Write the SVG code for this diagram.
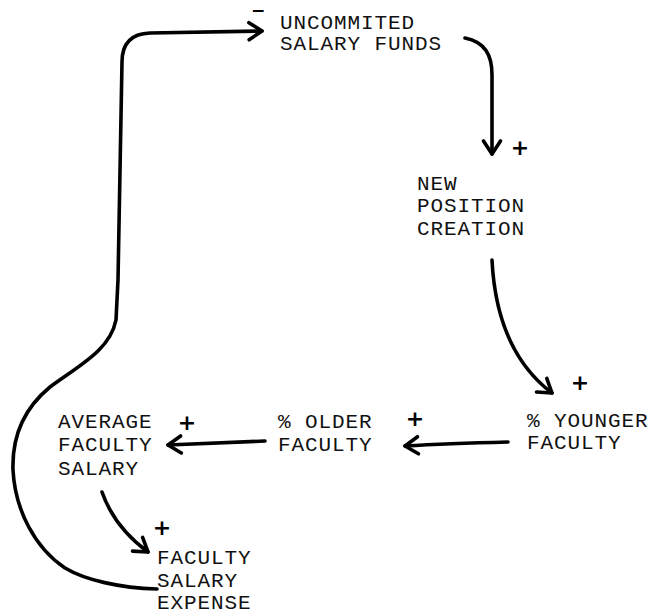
<svg xmlns="http://www.w3.org/2000/svg" width="664" height="616" viewBox="0 0 664 616">
  <style>
    .lbl { font-family: "Courier New", "Liberation Mono", monospace; font-size: 21px; letter-spacing: 0.9px; fill: #111; }
    .pol { font-family: "DejaVu Sans", "Liberation Sans", sans-serif; font-weight: bold; font-size: 22px; fill: #000; text-anchor: middle; dominant-baseline: central; }
    .link { fill: none; stroke: #000; stroke-width: 3.6; stroke-linecap: round; stroke-linejoin: round; }
  </style>
  <defs>
    <marker id="head" markerUnits="userSpaceOnUse" markerWidth="24" markerHeight="24" viewBox="0 0 24 24" refX="16" refY="12" orient="auto">
      <path d="M3,3.5 L16,12 L3,20.5" fill="none" stroke="#000" stroke-width="3.6" stroke-linecap="round" stroke-linejoin="round"/>
    </marker>
  </defs>
  <rect width="664" height="616" fill="#fff"/>

  <g id="connectors">
    <!-- feedback loop: salary expense back to uncommitted funds -->
    <path class="link" marker-end="url(#head)" d="M157,589 C120,588 85,580 65,568 C35,548 15,510 13,470 C12,440 22,410 50,387 C80,365 110,350 116,320 L118,280 L122,62 Q122,34 150,33 L262,31"/>
    <path class="link" marker-end="url(#head)" d="M465,38 C485,42 492,55 492,75 L492,154"/>
    <path class="link" marker-end="url(#head)" d="M492,260 C495,320 515,365 552,393"/>
    <path class="link" marker-end="url(#head)" d="M508,442 C470,443 440,444 405,446"/>
    <path class="link" marker-end="url(#head)" d="M265,441 L168,445"/>
    <path class="link" marker-end="url(#head)" d="M102,492 C110,515 125,535 148,552"/>
  </g>

  <g id="polarities">
    <text class="pol" x="258" y="10" style="font-size:17px">−</text>
    <text class="pol" x="520" y="147">+</text>
    <text class="pol" x="580" y="382">+</text>
    <text class="pol" x="415" y="418">+</text>
    <text class="pol" x="187" y="422">+</text>
    <text class="pol" x="162" y="527">+</text>
  </g>

  <g id="uncommited-salary-funds">
    <text class="lbl" x="280" y="29">UNCOMMITED</text>
    <text class="lbl" x="280" y="50">SALARY FUNDS</text>
  </g>
  <g id="new-position-creation">
    <text class="lbl" x="417" y="190">NEW</text>
    <text class="lbl" x="417" y="212">POSITION</text>
    <text class="lbl" x="417" y="235">CREATION</text>
  </g>
  <g id="younger-faculty">
    <text class="lbl" x="527" y="427">% YOUNGER</text>
    <text class="lbl" x="527" y="449">FACULTY</text>
  </g>
  <g id="older-faculty">
    <text class="lbl" x="278" y="428">% OLDER</text>
    <text class="lbl" x="278" y="451">FACULTY</text>
  </g>
  <g id="average-faculty-salary">
    <text class="lbl" x="58" y="428">AVERAGE</text>
    <text class="lbl" x="58" y="451">FACULTY</text>
    <text class="lbl" x="58" y="475">SALARY</text>
  </g>
  <g id="faculty-salary-expense">
    <text class="lbl" x="157" y="564">FACULTY</text>
    <text class="lbl" x="157" y="587">SALARY</text>
    <text class="lbl" x="157" y="609">EXPENSE</text>
  </g>
</svg>
